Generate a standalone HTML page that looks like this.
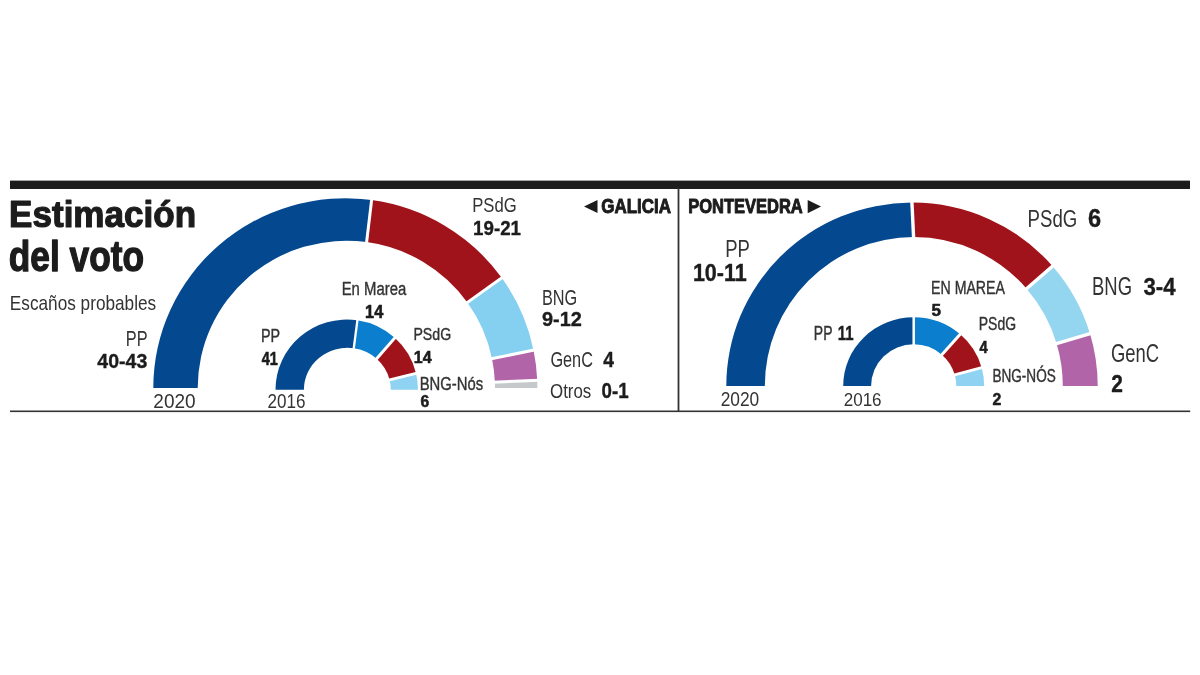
<!DOCTYPE html>
<html lang="es">
<head>
<meta charset="utf-8">
<title>Estimación del voto</title>
<style>
html,body{margin:0;padding:0;background:#fff;}
body{width:1200px;height:675px;overflow:hidden;font-family:"Liberation Sans",Arial,Helvetica,sans-serif;}
svg{display:block;}
</style>
</head>
<body>
<svg width="1200" height="675" viewBox="0 0 1200 675">
<rect x="10" y="180.6" width="1180" height="8.4" fill="#1c1c1c"/>
<rect x="10" y="410.5" width="1180.2" height="1.6" fill="#333"/>
<rect x="677.6" y="188" width="1.8" height="223.5" fill="#333"/>
<g id="gal-2020">
<path d="M153.30 388.00A192.05 189.7 0 0 1 371.58 200.08L366.65 242.08A148.65 147.3 0 0 0 197.70 388.00Z" fill="#04498f"/>
<path d="M371.58 200.08A192.05 189.7 0 0 1 501.70 277.84L467.37 302.46A148.65 147.3 0 0 0 366.65 242.08Z" fill="#a0131b"/>
<path d="M501.70 277.84A192.05 189.7 0 0 1 533.54 350.18L492.02 358.63A148.65 147.3 0 0 0 467.37 302.46Z" fill="#85cff0"/>
<path d="M533.54 350.18A192.05 189.7 0 0 1 537.25 380.39L494.88 382.09A148.65 147.3 0 0 0 492.02 358.63Z" fill="#b164a8"/>
<path d="M537.25 380.39A192.05 189.7 0 0 1 537.40 388.00L495.00 388.00A148.65 147.3 0 0 0 494.88 382.09Z" fill="#c6c9cc"/>
<line x1="371.85" y1="198.10" x2="366.38" y2="244.06" stroke="#fff" stroke-width="3.0"/>
<line x1="503.33" y1="276.68" x2="465.74" y2="303.62" stroke="#fff" stroke-width="3.0"/>
<line x1="535.50" y1="349.78" x2="490.06" y2="359.03" stroke="#fff" stroke-width="3.0"/>
<line x1="539.24" y1="380.31" x2="492.88" y2="382.17" stroke="#fff" stroke-width="3.0"/>
</g>
<g id="gal-2016">
<path d="M275.50 389.70A71.25 70.2 0 0 1 357.34 320.28L353.81 348.27A43.45 41.9 0 0 0 303.90 389.70Z" fill="#04498f"/>
<path d="M357.34 320.28A71.25 70.2 0 0 1 394.79 337.86L376.65 358.76A43.45 41.9 0 0 0 353.81 348.27Z" fill="#0b7fcd"/>
<path d="M394.79 337.86A71.25 70.2 0 0 1 416.03 373.31L389.60 379.92A43.45 41.9 0 0 0 376.65 358.76Z" fill="#a0131b"/>
<path d="M416.03 373.31A71.25 70.2 0 0 1 418.00 389.70L390.80 389.70A43.45 41.9 0 0 0 389.60 379.92Z" fill="#90d2f2"/>
<line x1="357.64" y1="318.30" x2="353.51" y2="350.24" stroke="#fff" stroke-width="2.3"/>
<line x1="396.14" y1="336.38" x2="375.30" y2="360.24" stroke="#fff" stroke-width="3.0"/>
<line x1="417.98" y1="372.85" x2="387.65" y2="380.39" stroke="#fff" stroke-width="3.0"/>
</g>
<g id="pon-2020">
<path d="M726.30 386.00A185.7 183.4 0 0 1 911.84 202.60L913.67 237.10A149.0 148.9 0 0 0 764.80 386.00Z" fill="#04498f"/>
<path d="M911.84 202.60A185.7 183.4 0 0 1 1052.57 266.16L1026.59 288.71A149.0 148.9 0 0 0 913.67 237.10Z" fill="#a0131b"/>
<path d="M1052.57 266.16A185.7 183.4 0 0 1 1089.96 333.60L1056.59 343.46A149.0 148.9 0 0 0 1026.59 288.71Z" fill="#94d6f0"/>
<path d="M1089.96 333.60A185.7 183.4 0 0 1 1097.70 386.00L1062.80 386.00A149.0 148.9 0 0 0 1056.59 343.46Z" fill="#b164a8"/>
<line x1="911.84" y1="200.60" x2="913.67" y2="239.10" stroke="#fff" stroke-width="3.4"/>
<line x1="1054.09" y1="264.86" x2="1025.08" y2="290.01" stroke="#fff" stroke-width="3.4"/>
<line x1="1091.88" y1="333.03" x2="1054.67" y2="344.03" stroke="#fff" stroke-width="3.4"/>
</g>
<g id="pon-2016">
<path d="M843.20 385.90A70.5 68.6 0 0 1 913.70 317.30L913.70 344.30A42.6 41.6 0 0 0 871.10 385.90Z" fill="#04498f"/>
<path d="M913.70 317.30A70.5 68.6 0 0 1 960.23 334.36L941.82 354.65A42.6 41.6 0 0 0 913.70 344.30Z" fill="#0b7fcd"/>
<path d="M960.23 334.36A70.5 68.6 0 0 1 981.67 367.68L954.77 374.85A42.6 41.6 0 0 0 941.82 354.65Z" fill="#a0131b"/>
<path d="M981.67 367.68A70.5 68.6 0 0 1 984.20 385.90L956.30 385.90A42.6 41.6 0 0 0 954.77 374.85Z" fill="#90d2f2"/>
<line x1="913.70" y1="315.30" x2="913.70" y2="346.30" stroke="#fff" stroke-width="2.5"/>
<line x1="961.55" y1="332.86" x2="940.50" y2="356.15" stroke="#fff" stroke-width="3.0"/>
<line x1="983.60" y1="367.15" x2="952.84" y2="375.38" stroke="#fff" stroke-width="3.0"/>
</g>
<polygon points="584,206.5 597.5,200 597.5,213" fill="#1c1c1c"/>
<polygon points="821,206.6 807.7,200 807.7,213.3" fill="#1c1c1c"/>
<g opacity="0.999" font-family="'Liberation Sans', Arial, Helvetica, sans-serif">
<text transform="translate(9.10 226.60) scale(0.9550 1)" font-size="36.71" font-weight="700" stroke="#1c1c1c" stroke-width="1.2" stroke-linejoin="round" vector-effect="non-scaling-stroke" fill="#1c1c1c">Estimación</text>
<text transform="translate(8.79 271.30) scale(0.8147 1)" font-size="43.29" font-weight="700" stroke="#1c1c1c" stroke-width="1.2" stroke-linejoin="round" vector-effect="non-scaling-stroke" fill="#1c1c1c">del voto</text>
<text transform="translate(9.82 309.50) scale(0.8665 1)" font-size="19.86" fill="#333333">Escaños probables</text>
<text transform="translate(125.79 346.10) scale(0.7609 1)" font-size="21.45" fill="#333333">PP</text>
<text transform="translate(97.28 368.43) scale(0.9351 1)" font-size="20.93" font-weight="700" stroke="#1c1c1c" stroke-width="0.35" stroke-linejoin="round" vector-effect="non-scaling-stroke" fill="#1c1c1c">40-43</text>
<text transform="translate(153.35 407.80) scale(0.9252 1)" font-size="20.57" fill="#333333">2020</text>
<text transform="translate(260.93 342.02) scale(0.7903 1)" font-size="18.19" stroke="#333333" stroke-width="0.35" stroke-linejoin="round" vector-effect="non-scaling-stroke" fill="#333333">PP</text>
<text transform="translate(261.73 364.73) scale(0.8274 1)" font-size="17.46" font-weight="700" stroke="#1c1c1c" stroke-width="0.55" stroke-linejoin="round" vector-effect="non-scaling-stroke" fill="#1c1c1c">41</text>
<text transform="translate(267.45 407.80) scale(0.8785 1)" font-size="19.43" fill="#333333">2016</text>
<text transform="translate(341.68 295.22) scale(0.7999 1)" font-size="18.62" stroke="#333333" stroke-width="0.35" stroke-linejoin="round" vector-effect="non-scaling-stroke" fill="#333333">En Marea</text>
<text transform="translate(365.10 317.93) scale(0.9352 1)" font-size="17.46" font-weight="700" stroke="#1c1c1c" stroke-width="0.55" stroke-linejoin="round" vector-effect="non-scaling-stroke" fill="#1c1c1c">14</text>
<text transform="translate(413.44 339.72) scale(0.8163 1)" font-size="17.33" stroke="#333333" stroke-width="0.35" stroke-linejoin="round" vector-effect="non-scaling-stroke" fill="#333333">PSdG</text>
<text transform="translate(413.71 362.83) scale(0.9267 1)" font-size="17.32" font-weight="700" stroke="#1c1c1c" stroke-width="0.55" stroke-linejoin="round" vector-effect="non-scaling-stroke" fill="#1c1c1c">14</text>
<text transform="translate(419.69 389.62) scale(0.8493 1)" font-size="17.50" stroke="#333333" stroke-width="0.35" stroke-linejoin="round" vector-effect="non-scaling-stroke" fill="#333333">BNG-Nós</text>
<text transform="translate(420.51 406.62) scale(0.9629 1)" font-size="16.21" font-weight="700" stroke="#1c1c1c" stroke-width="0.55" stroke-linejoin="round" vector-effect="non-scaling-stroke" fill="#1c1c1c">6</text>
<text transform="translate(472.17 212.20) scale(0.7952 1)" font-size="20.96" fill="#333333">PSdG</text>
<text transform="translate(473.05 234.62) scale(0.8900 1)" font-size="21.07" font-weight="700" stroke="#1c1c1c" stroke-width="0.35" stroke-linejoin="round" vector-effect="non-scaling-stroke" fill="#1c1c1c">19-21</text>
<text transform="translate(542.00 304.70) scale(0.7504 1)" font-size="21.71" fill="#333333">BNG</text>
<text transform="translate(541.98 326.02) scale(0.9785 1)" font-size="20.36" font-weight="700" stroke="#1c1c1c" stroke-width="0.35" stroke-linejoin="round" vector-effect="non-scaling-stroke" fill="#1c1c1c">9-12</text>
<text transform="translate(550.39 366.80) scale(0.7402 1)" font-size="22.00" fill="#333333">GenC</text>
<text transform="translate(603.28 366.62) scale(0.8973 1)" font-size="21.38" font-weight="700" stroke="#1c1c1c" stroke-width="0.35" stroke-linejoin="round" vector-effect="non-scaling-stroke" fill="#1c1c1c">4</text>
<text transform="translate(550.02 397.60) scale(0.8096 1)" font-size="20.86" fill="#333333">Otros</text>
<text transform="translate(601.61 397.72) scale(0.8722 1)" font-size="21.50" font-weight="700" stroke="#1c1c1c" stroke-width="0.35" stroke-linejoin="round" vector-effect="non-scaling-stroke" fill="#1c1c1c">0-1</text>
<text transform="translate(601.27 213.35) scale(0.8237 1)" font-size="20.57" font-weight="700" stroke="#1c1c1c" stroke-width="0.9" stroke-linejoin="round" vector-effect="non-scaling-stroke" fill="#1c1c1c">GALICIA</text>
<text transform="translate(688.16 212.95) scale(0.8138 1)" font-size="20.29" font-weight="700" stroke="#1c1c1c" stroke-width="0.9" stroke-linejoin="round" vector-effect="non-scaling-stroke" fill="#1c1c1c">PONTEVEDRA</text>
<text transform="translate(725.22 256.60) scale(0.7680 1)" font-size="24.06" fill="#333333">PP</text>
<text transform="translate(692.88 281.32) scale(0.9002 1)" font-size="23.93" font-weight="700" stroke="#1c1c1c" stroke-width="0.35" stroke-linejoin="round" vector-effect="non-scaling-stroke" fill="#1c1c1c">10-11</text>
<text transform="translate(720.63 405.80) scale(0.8930 1)" font-size="19.43" fill="#333333">2020</text>
<text transform="translate(813.86 340.43) scale(0.7215 1)" font-size="19.35" stroke="#333333" stroke-width="0.35" stroke-linejoin="round" vector-effect="non-scaling-stroke" fill="#333333">PP</text>
<text transform="translate(837.78 340.43) scale(0.7745 1)" font-size="19.35" font-weight="700" stroke="#1c1c1c" stroke-width="0.35" stroke-linejoin="round" vector-effect="non-scaling-stroke" fill="#1c1c1c">11</text>
<text transform="translate(843.65 406.00) scale(0.8850 1)" font-size="19.29" fill="#333333">2016</text>
<text transform="translate(931.04 294.12) scale(0.7844 1)" font-size="18.07" stroke="#333333" stroke-width="0.35" stroke-linejoin="round" vector-effect="non-scaling-stroke" fill="#333333">EN MAREA</text>
<text transform="translate(931.56 315.93) scale(0.9957 1)" font-size="17.17" font-weight="700" stroke="#1c1c1c" stroke-width="0.55" stroke-linejoin="round" vector-effect="non-scaling-stroke" fill="#1c1c1c">5</text>
<text transform="translate(978.76 330.32) scale(0.8008 1)" font-size="17.47" stroke="#333333" stroke-width="0.35" stroke-linejoin="round" vector-effect="non-scaling-stroke" fill="#333333">PSdG</text>
<text transform="translate(979.53 353.43) scale(0.8522 1)" font-size="17.17" font-weight="700" stroke="#1c1c1c" stroke-width="0.55" stroke-linejoin="round" vector-effect="non-scaling-stroke" fill="#1c1c1c">4</text>
<text transform="translate(992.39 382.02) scale(0.7570 1)" font-size="17.96" stroke="#333333" stroke-width="0.35" stroke-linejoin="round" vector-effect="non-scaling-stroke" fill="#333333">BNG-NÓS</text>
<text transform="translate(992.50 404.62) scale(0.9586 1)" font-size="16.50" font-weight="700" stroke="#1c1c1c" stroke-width="0.55" stroke-linejoin="round" vector-effect="non-scaling-stroke" fill="#1c1c1c">2</text>
<text transform="translate(1027.61 227.40) scale(0.7590 1)" font-size="24.52" fill="#333333">PSdG</text>
<text transform="translate(1087.97 227.42) scale(0.9456 1)" font-size="24.93" font-weight="700" stroke="#1c1c1c" stroke-width="0.35" stroke-linejoin="round" vector-effect="non-scaling-stroke" fill="#1c1c1c">6</text>
<text transform="translate(1092.02 294.70) scale(0.7347 1)" font-size="25.14" fill="#333333">BNG</text>
<text transform="translate(1143.53 294.52) scale(0.9015 1)" font-size="24.64" font-weight="700" stroke="#1c1c1c" stroke-width="0.35" stroke-linejoin="round" vector-effect="non-scaling-stroke" fill="#1c1c1c">3-4</text>
<text transform="translate(1110.98 362.00) scale(0.7367 1)" font-size="25.00" fill="#333333">GenC</text>
<text transform="translate(1111.15 391.72) scale(0.8742 1)" font-size="23.93" font-weight="700" stroke="#1c1c1c" stroke-width="0.35" stroke-linejoin="round" vector-effect="non-scaling-stroke" fill="#1c1c1c">2</text>
</g>
</svg>
</body>
</html>
